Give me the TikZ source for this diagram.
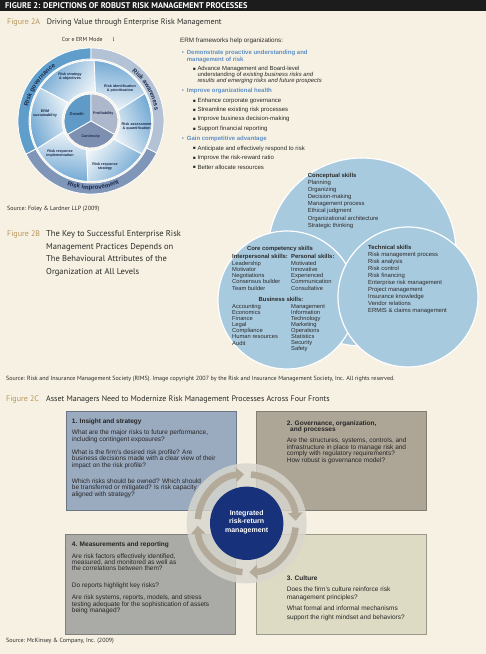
\documentclass[tikz,border=0pt]{standalone}
\usepackage{fontspec}
\setmainfont{Liberation Sans}
\newfontfamily\hfont{PT Sans}
\newfontfamily\symf{DejaVu Sans}
\usetikzlibrary{decorations.text,arrows.meta,calc}
\definecolor{bgc}{HTML}{F6F1E2}
\definecolor{hdr}{HTML}{1C1C1C}
\definecolor{figtan}{HTML}{B8955C}
\definecolor{ttl}{HTML}{2A2A2A}
\definecolor{bblue}{HTML}{5E8FC6}
\definecolor{venn}{HTML}{A8CADF}
\definecolor{boxa}{HTML}{9AAABF}
\definecolor{boxb}{HTML}{ADA697}
\definecolor{boxc}{HTML}{DEDBC4}
\definecolor{boxd}{HTML}{AAAAA6}
\definecolor{navy}{HTML}{17327A}
\definecolor{taupe}{HTML}{B3AA99}
\definecolor{ringlt}{HTML}{D8D6CE}
\definecolor{ringg}{HTML}{5F9DCB}
\definecolor{ringa}{HTML}{B4C2D6}
\definecolor{ringi}{HTML}{7F96B9}
\definecolor{ingr}{HTML}{5F9BC6}
\definecolor{inpr}{HTML}{AEB8CC}
\definecolor{inco}{HTML}{7D90B2}
\definecolor{petb}{HTML}{6EA6D2}
\definecolor{petw}{HTML}{EEF4F8}
\definecolor{ermtxt}{HTML}{1F2B4D}
\newcommand{\fsz}[2]{\fontsize{#1}{#2}\selectfont}
\begin{document}
\begin{tikzpicture}[x=1pt,y=1pt,
  txt/.style={inner sep=0pt, anchor=north west, align=left, text=ttl},
  lbl/.style={inner sep=0pt, anchor=west, text=ttl},
  hd/.style={inner sep=0pt, anchor=west, font=\hfont\fsz{8}{9}, text=ttl},
  hdl/.style={hd, text=figtan},
  src/.style={inner sep=0pt, anchor=west, font=\hfont\fsz{6.05}{6.5}, text=ttl},
  petal/.style={inner sep=0pt, align=center, font=\bfseries\fsz{3.7}{4.3}, text=ermtxt},
  inl/.style={inner sep=0pt, font=\bfseries\fsz{4}{4.5}, text=ermtxt},
  bul/.style={inner sep=0pt, anchor=west, font=\fsz{6}{6}},
  sq/.style={inner sep=0pt, anchor=west, font=\symf\fsz{4.5}{5}, text=ttl},
  erm/.style={txt, font=\fsz{6}{6.6}},
  ermi/.style={lbl, font=\fsz{6}{6.6}},
  vn/.style={txt, font=\fsz{5.9}{7.1}},
  vl/.style={txt, font=\fsz{5.8}{6.08}},
  vb/.style={inner sep=0pt, font=\bfseries\fsz{5.9}{7}, text=ttl},
  bx/.style={txt, font=\fsz{6.5}{6.5}, text=black!85},
  bxt/.style={lbl, font=\bfseries\fsz{6.5}{6.5}, text=black!85},
  boxs/.style={line width=0.7pt},
  ringseg/.style={draw=white, line width=0.8pt},
  arr/.style={taupe, line width=6.5pt, -{Triangle[width=14pt,length=8pt]}},
  ringtxt/.style={decorate, decoration={text along path, text align=center, text color=ermtxt, text={|\bfseries\fsz{6.2}{7}|#1}}},
]
\useasboundingbox (0,0) rectangle (486,-654);
\fill[bgc] (0,0) rectangle (486,-654);
% header
\fill[hdr] (0,0) rectangle (486,-11);
\node[inner sep=0pt, anchor=west, font=\hfont\bfseries\fsz{8.3}{9}, text=white] (hdrt) at (5,-5.8) {FIGURE 2: DEPICTIONS OF ROBUST RISK MANAGEMENT PROCESSES};
% Figure 2A
\node[hdl] (f2a) at (7,-22.3) {Figure 2A};
\node[hd] (f2at) at (46.7,-22.3) {Driving Value through Enterprise Risk Management};
\node[inner sep=0pt, anchor=west, font=\hfont\fsz{5.8}{6.5}, text=ttl] (ermtitle) at (61.7,-39.3) {Cor e ERM Mode\hspace{10pt}l};
% ERM circle
\begin{scope}[shift={(91,-121)}]
  \fill[ringg, ringseg] (207:73) arc[start angle=207,end angle=90,radius=73] -- (90:62) arc[start angle=90,end angle=207,radius=62] -- cycle;
  \fill[ringa, ringseg] (90:73) arc[start angle=90,end angle=-26,radius=73] -- (-26:62) arc[start angle=-26,end angle=90,radius=62] -- cycle;
  \fill[ringi, ringseg] (-26:73) arc[start angle=-26,end angle=-153,radius=73] -- (-153:62) arc[start angle=-153,end angle=-26,radius=62] -- cycle;
  \foreach \a [evaluate=\a as \sa using \a-60] in {113,53,-7,-67,-127,173} {
    \shadedraw[top color=petb, bottom color=petw, shading angle=\sa, draw=white, line width=0.8pt]
      (\a+28:29) arc[start angle=\a+28,end angle=\a-32,radius=29] -- (\a-26:60.5)
      arc[start angle=\a-26,end angle=\a+34,radius=60.5] -- cycle;
  }
  \fill[ingr, draw=white, line width=0.8pt] (0,0) -- (90:27) arc[start angle=90,end angle=210,radius=27] -- cycle;
  \fill[inpr, draw=white, line width=0.8pt] (0,0) -- (-30:27) arc[start angle=-30,end angle=90,radius=27] -- cycle;
  \fill[inco, draw=white, line width=0.8pt] (0,0) -- (210:27) arc[start angle=210,end angle=330,radius=27] -- cycle;
  \path[ringtxt={Risk governance}] (200:64.6) arc[start angle=200,end angle=90,radius=64.6];
  \path[ringtxt={Risk awareness}] (85:64.6) arc[start angle=85,end angle=-25,radius=64.6];
  \path[ringtxt={Risk improvement}] (228:68.5) arc[start angle=228,end angle=316,radius=68.5];
\end{scope}
\node[petal] (p1) at (70,-76.7) {Risk strategy\\\& objectives};
\node[petal] (p2) at (120,-88.3) {Risk identification\\\& prioritization};
\node[petal] (p3) at (136.7,-126.7) {Risk assessment\\\& quantification};
\node[petal] (p4) at (105,-166.7) {Risk response\\strategy};
\node[petal] (p5) at (60,-153.3) {Risk response\\implementation};
\node[petal] (p6) at (45,-113.3) {ERM\\sustainability};
\node[inl] (growth) at (76.7,-114) {Growth};
\node[inl, font=\bfseries\fsz{3.7}{4.3}] (profit) at (103.3,-114) {Profitability};
\node[inl, font=\bfseries\fsz{3.7}{4.3}] (contin) at (90.7,-136.7) {Continuity};
% ERM frameworks list
\node[lbl, font=\fsz{6.3}{7}] (ermh) at (180,-41) {ERM frameworks help organizations:};
\node[bul, text=bblue] (b1) at (181.7,-52.7) {•};
\node[erm, font=\bfseries\fsz{6}{6.6}, text=bblue] (b1t) at (186.7,-50.0) {Demonstrate proactive understanding and\\management of risk};
\node[sq] (s1) at (192.7,-69) {▪};
\node[erm, font=\fsz{5.9}{5.7}] (s1t) at (197.3,-66.3) {Advance Management and Board-level\\understanding of \textit{existing business risks and}\\\textit{results and emerging risks and future prospects}};
\node[bul, text=bblue] (b2) at (181.7,-90.7) {•};
\node[lbl, font=\bfseries\fsz{6}{6.6}, text=bblue] (b2t) at (186.7,-90.7) {Improve organizational health};
\node[sq] (s2) at (192.7,-101) {▪};
\node[ermi] (s2t) at (197.3,-101) {Enhance corporate governance};
\node[sq] (s3) at (192.7,-110) {▪};
\node[ermi] (s3t) at (197.3,-110) {Streamline existing risk processes};
\node[sq] (s4) at (192.7,-119.3) {▪};
\node[ermi] (s4t) at (197.3,-119.3) {Improve business decision-making};
\node[sq] (s5) at (192.7,-129) {▪};
\node[ermi] (s5t) at (197.3,-129) {Support financial reporting};
\node[bul, text=bblue] (b3) at (181.7,-139) {•};
\node[lbl, font=\bfseries\fsz{6}{6.6}, text=bblue] (b3t) at (186.7,-139) {Gain competitive advantage};
\node[sq] (s6) at (192.7,-148.7) {▪};
\node[ermi] (s6t) at (197.3,-148.7) {Anticipate and effectively respond to risk};
\node[sq] (s7) at (192.7,-158.3) {▪};
\node[ermi] (s7t) at (197.3,-158.3) {Improve the risk-reward ratio};
\node[sq] (s8) at (192.7,-167.3) {▪};
\node[ermi] (s8t) at (197.3,-167.3) {Better allocate resources};
% source 1
\node[src] (src1) at (7,-209) {Source: Foley \& Lardner LLP (2009)};
% Figure 2B
\node[hdl] (f2b) at (7,-234.3) {Figure 2B};
\node[txt, font=\hfont\fsz{8.5}{12.6}] (f2bt) at (46,-230.5) {The Key to Successful Enterprise Risk\\Management Practices Depends on\\The Behavioural Attributes of the\\Organization at All Levels};
% Venn
\filldraw[fill=venn, draw=white, line width=1.2pt] (362,-252) circle[radius=94];
\filldraw[fill=venn, draw=white, line width=1.2pt] (287,-300) circle[radius=69];
\filldraw[fill=venn, draw=white, line width=1.2pt] (408,-297) circle[radius=70];
\node[vn] (concept) at (307.7,-173.0) {\textbf{Conceptual skills}\\Planning\\Organizing\\Decision-making\\Management process\\Ethical judgment\\Organizational architecture\\Strategic thinking};
\node[vb] (core) at (280,-249) {Core competency skills};
\node[vb, anchor=west] (inter) at (232,-256.5) {Interpersonal skills:};
\node[vb, anchor=west] (pers) at (291,-256.5) {Personal skills:};
\node[vl] (interl) at (232,-261.3) {Leadership\\Motivator\\Negotiations\\Consensus builder\\Team builder};
\node[vl] (persl) at (291,-261.3) {Motivated\\Innovative\\Experienced\\Communication\\Consultative};
\node[vb] (bus) at (281,-299.3) {Business skills:};
\node[vl, font=\fsz{5.8}{6.1}] (bus1) at (232,-304.0) {Accounting\\Economics\\Finance\\Legal\\Compliance\\Human resources\\Audit};
\node[vl, font=\fsz{5.8}{6.1}] (bus2) at (291,-304.0) {Management\\Information\\Technology\\Marketing\\Operations\\Statistics\\Security\\Safety};
\node[vn] (tech) at (368,-244.6) {\textbf{Technical skills}\\Risk management process\\Risk analysis\\Risk control\\Risk financing\\Enterprise risk management\\Project management\\Insurance knowledge\\Vendor relations\\ERMIS \& claims management};
% source 2
\node[src] (src2) at (6,-379.3) {Source: Risk and Insurance Management Society (RIMS). Image copyright 2007 by the Risk and Insurance Management Society, Inc. All rights reserved.};
% Figure 2C
\node[hdl] (f2c) at (6,-399.3) {Figure 2C};
\node[hd] (f2ct) at (46,-399.3) {Asset Managers Need to Modernize Risk Management Processes Across Four Fronts};
% boxes
\filldraw[boxs, fill=boxa, draw=boxa!70!black] (66,-411) rectangle (236.7,-510);
\filldraw[boxs, fill=boxb, draw=boxb!75!black] (256.7,-411) rectangle (426.7,-510);
\filldraw[boxs, fill=boxd, draw=boxd!75!black] (65,-534) rectangle (235.7,-634);
\filldraw[boxs, fill=boxc, draw=boxc!70!black] (256.7,-534) rectangle (426.7,-634);
\node[bxt] (b1h) at (71.7,-421.7) {1. Insight and strategy};
\node[bx] (b1p1) at (71.7,-429.8) {What are the major risks to future performance,\\including contingent exposures?};
\node[bx] (b1p2) at (71.7,-449.4) {What is the firm's desired risk profile? Are\\business decisions made with a clear view of their\\impact on the risk profile?};
\node[bx] (b1p3) at (71.7,-478.1) {Which risks should be owned? Which should\\be transferred or mitigated? Is risk capacity\\aligned with strategy?};
\node[bx, font=\bfseries\fsz{6.5}{6.2}] (b2h) at (286.7,-420.4) {2. Governance, organization,\\\hspace{3.3pt}and processes};
\node[bx, font=\fsz{6.5}{6.3}] (b2p1) at (286.7,-437.8) {Are the structures, systems, controls, and\\infrastructure in place to manage risk and\\comply with regulatory requirements?};
\node[bx, anchor=west] (b2p2) at (286.7,-461) {How robust is governance model?};
\node[bxt] (b4h) at (71.7,-545) {4. Measurements and reporting};
\node[bx, font=\fsz{6.5}{6.35}] (b4p1) at (71.7,-553.1) {Are risk factors effectively identified,\\measured, and monitored as well as\\the correlations between them?};
\node[bx, anchor=west] (b4p2) at (71.7,-586) {Do reports highlight key risks?};
\node[bx, font=\fsz{6.5}{6.3}] (b4p3) at (71.7,-594.8) {Are risk systems, reports, models, and stress\\testing adequate for the sophistication of assets\\being managed?};
\node[bxt] (b3h) at (286.7,-577.7) {3. Culture};
\node[bx, font=\fsz{6.5}{8.3}] (b3p1) at (286.7,-586.1) {Does the firm's culture reinforce risk\\management principles?};
\node[bx, font=\fsz{6.5}{8.3}] (b3p2) at (286.7,-605.8) {What formal and informal mechanisms\\support the right mindset and behaviors?};
% center
\coordinate (c2) at (246.7,-523.3);
\fill[ringlt, opacity=0.82] (c2) circle[radius=60];
\foreach \k in {0,1,2,3} {
  \draw[arr] ($(c2)+(\k*90+85:49)$) arc[start angle=\k*90+85, end angle=\k*90+3, radius=49];
}
\node[circle, fill=navy, minimum size=73.4pt, inner sep=0pt] (ctr) at (c2) {};
\node[inner sep=0pt, align=center, text=white, font=\bfseries\fsz{7}{8.7}] (ctrt) at (246.7,-522) {Integrated\\risk-return\\management};
% source 3
\node[src] (src3) at (6,-641) {Source: McKinsey \& Company, Inc. (2009)};
\end{tikzpicture}
\end{document}
